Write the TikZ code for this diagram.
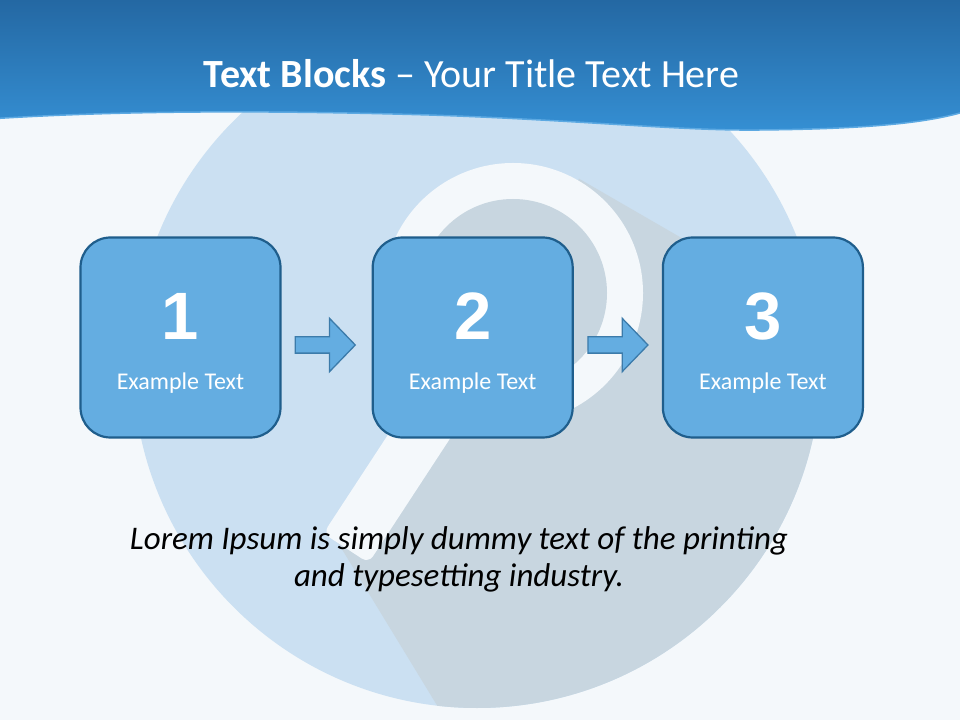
\documentclass[tikz,border=0pt]{standalone}
\usepackage{fontspec}
\setmainfont{Carlito}
\newfontfamily\digitfont{Liberation Sans}
\usetikzlibrary{positioning, shapes.arrows}
\definecolor{pagebg}{HTML}{F4F8FB}
\definecolor{discblue}{HTML}{CBE0F2}
\definecolor{shadowgrey}{HTML}{C8D6E0}
\definecolor{bannertop}{HTML}{2468A3}
\definecolor{bannerbot}{HTML}{358FD3}
\definecolor{bannerline}{HTML}{5CA9E2}
\definecolor{boxfill}{HTML}{64ADE1}
\definecolor{boxline}{HTML}{1F5E8C}
\definecolor{arrowline}{HTML}{3C7BAA}
\tikzset{
  stepbox/.style={
    rectangle, rounded corners=30pt,
    fill=boxfill, draw=boxline, line width=2.2pt,
    minimum width=200pt, minimum height=200pt, inner sep=0pt
  },
  stepnum/.style={font=\digitfont\bfseries\fontsize{67}{67}\selectfont,
    text=white, inner sep=0pt},
  steptext/.style={font=\fontsize{24}{28}\selectfont, text=white, inner sep=0pt},
  blockarrow/.style={
    single arrow, fill=boxfill, draw=arrowline, line width=1.3pt,
    minimum height=60pt, minimum width=52pt,
    single arrow head extend=18.5pt, single arrow tip angle=92,
    inner xsep=0pt, inner ysep=7.5pt
  }
}
\begin{document}
\begin{tikzpicture}[x=1pt, y=1pt]
\useasboundingbox (0,0) rectangle (960,720);
\fill[pagebg] (0,0) rectangle (960,720);
% Fond : disque et loupe
\coordinate (disc) at (477,356);
\coordinate (lens) at (513,427);
\fill[discblue] (disc) circle (344pt);
\begin{scope}
  \clip (disc) circle (344pt);
  \fill[shadowgrey] (lens) -- (579,541.3) -- (1185,191) -- (1185,-200)
    -- (567.7,-200) -- (332.2,186.8) -- cycle;
\end{scope}
\begin{scope}[shift={(lens)}, rotate=-123.2]
  \fill[pagebg, rounded corners=8pt] (100,-27) rectangle (305,27);
\end{scope}
\fill[pagebg] (lens) circle (130pt);
\fill[shadowgrey] (lens) circle (94pt);
% Bandeau du titre
\shade[top color=bannertop, bottom color=bannerbot] (0,720) -- (0,601.7)
  .. controls (120,609) and (260,610) .. (429,605)
  .. controls (580,600) and (680,589) .. (760,590)
  .. controls (860,591) and (920,596) .. (960,607) -- (960,720) -- cycle;
\draw[bannerline, line width=1.5pt] (0,601.7)
  .. controls (120,609) and (260,610) .. (429,605)
  .. controls (580,600) and (680,589) .. (760,590)
  .. controls (860,591) and (920,596) .. (960,607);
\node[anchor=base, text=white, inner sep=0pt, font=\fontsize{40}{46}\selectfont]
  (title) at (471.5,632.7) {\textbf{Text Blocks} – Your Title Text Here};
% Blocs
\node[stepbox] (b1) at (180.5,382.5) {};
\node[stepbox, right=90pt of b1] (b2) {};
\node[stepbox, right=88pt of b2] (b3) {};
% Fleches
\node[blockarrow, right=13pt of b1, yshift=-7.5pt] (arr1) {};
\node[blockarrow, right=13.5pt of b2, yshift=-7.5pt] (arr2) {};
% Textes des blocs
\node[stepnum, anchor=base] (n1) at ([yshift=-2.5pt]b1.center) {1};
\node[stepnum, anchor=base] (n2) at ([yshift=-2.5pt]b2.center) {2};
\node[stepnum, anchor=base] (n3) at ([yshift=-2.5pt]b3.center) {3};
\node[steptext, anchor=base] (t1) at ([yshift=-51.8pt]b1.center) {Example Text};
\node[steptext, anchor=base] (t2) at ([yshift=-51.8pt]b2.center) {Example Text};
\node[steptext, anchor=base] (t3) at ([yshift=-51.8pt]b3.center) {Example Text};
% Texte du bas
\node[align=center, inner sep=0pt, font=\itshape\fontsize{33}{37}\selectfont]
  (lorem) at (459,161) {Lorem Ipsum is simply dummy text of the printing\\
  and typesetting industry.};
\end{tikzpicture}
\end{document}
